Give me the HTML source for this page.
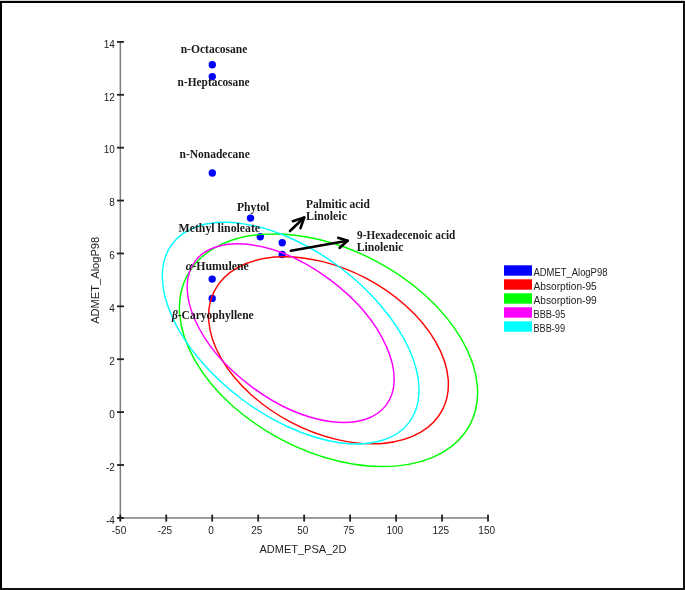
<!DOCTYPE html><html><head><meta charset="utf-8"><style>html,body{margin:0;padding:0;background:#fff}svg{display:block;filter:blur(0.3px)}</style></head><body>
<svg width="685" height="590" viewBox="0 0 685 590">
<rect x="0" y="0" width="685" height="590" fill="#fff"/>
<rect x="0" y="0" width="685" height="1" fill="#d6d6d6"/>
<rect x="0" y="1" width="685" height="2" fill="#000"/>
<rect x="0" y="1" width="2" height="589" fill="#000"/>
<rect x="683" y="1" width="2" height="589" fill="#111"/>
<rect x="0" y="588" width="685" height="2" fill="#111"/>
<g>
<rect x="119.6" y="42" width="1.5" height="479" fill="#7d7d7d"/>
<rect x="120" y="517.2" width="368" height="1.5" fill="#7d7d7d"/>
<rect x="117" y="41.00" width="7" height="1.8" fill="#222"/>
<text x="114.8" y="47.70" text-anchor="end" font-family="Liberation Sans" font-size="10" fill="#222">14</text>
<rect x="117" y="93.89" width="7" height="1.8" fill="#222"/>
<text x="114.8" y="100.59" text-anchor="end" font-family="Liberation Sans" font-size="10" fill="#222">12</text>
<rect x="117" y="146.78" width="7" height="1.8" fill="#222"/>
<text x="114.8" y="153.48" text-anchor="end" font-family="Liberation Sans" font-size="10" fill="#222">10</text>
<rect x="117" y="199.67" width="7" height="1.8" fill="#222"/>
<text x="114.8" y="206.37" text-anchor="end" font-family="Liberation Sans" font-size="10" fill="#222">8</text>
<rect x="117" y="252.56" width="7" height="1.8" fill="#222"/>
<text x="114.8" y="259.26" text-anchor="end" font-family="Liberation Sans" font-size="10" fill="#222">6</text>
<rect x="117" y="305.44" width="7" height="1.8" fill="#222"/>
<text x="114.8" y="312.14" text-anchor="end" font-family="Liberation Sans" font-size="10" fill="#222">4</text>
<rect x="117" y="358.33" width="7" height="1.8" fill="#222"/>
<text x="114.8" y="365.03" text-anchor="end" font-family="Liberation Sans" font-size="10" fill="#222">2</text>
<rect x="117" y="411.22" width="7" height="1.8" fill="#222"/>
<text x="114.8" y="417.92" text-anchor="end" font-family="Liberation Sans" font-size="10" fill="#222">0</text>
<rect x="117" y="464.11" width="7" height="1.8" fill="#222"/>
<text x="114.8" y="470.81" text-anchor="end" font-family="Liberation Sans" font-size="10" fill="#222">-2</text>
<rect x="117" y="517.00" width="7" height="1.8" fill="#222"/>
<text x="114.8" y="523.70" text-anchor="end" font-family="Liberation Sans" font-size="10" fill="#222">-4</text>
<rect x="119.40" y="514.6" width="1.8" height="7" fill="#222"/>
<text x="119.00" y="533.8" text-anchor="middle" font-family="Liberation Sans" font-size="10" fill="#222">-50</text>
<rect x="165.36" y="514.6" width="1.8" height="7" fill="#222"/>
<text x="164.96" y="533.8" text-anchor="middle" font-family="Liberation Sans" font-size="10" fill="#222">-25</text>
<rect x="211.32" y="514.6" width="1.8" height="7" fill="#222"/>
<text x="210.92" y="533.8" text-anchor="middle" font-family="Liberation Sans" font-size="10" fill="#222">0</text>
<rect x="257.29" y="514.6" width="1.8" height="7" fill="#222"/>
<text x="256.89" y="533.8" text-anchor="middle" font-family="Liberation Sans" font-size="10" fill="#222">25</text>
<rect x="303.25" y="514.6" width="1.8" height="7" fill="#222"/>
<text x="302.85" y="533.8" text-anchor="middle" font-family="Liberation Sans" font-size="10" fill="#222">50</text>
<rect x="349.21" y="514.6" width="1.8" height="7" fill="#222"/>
<text x="348.81" y="533.8" text-anchor="middle" font-family="Liberation Sans" font-size="10" fill="#222">75</text>
<rect x="395.18" y="514.6" width="1.8" height="7" fill="#222"/>
<text x="394.77" y="533.8" text-anchor="middle" font-family="Liberation Sans" font-size="10" fill="#222">100</text>
<rect x="441.14" y="514.6" width="1.8" height="7" fill="#222"/>
<text x="440.74" y="533.8" text-anchor="middle" font-family="Liberation Sans" font-size="10" fill="#222">125</text>
<rect x="487.10" y="514.6" width="1.8" height="7" fill="#222"/>
<text x="486.70" y="533.8" text-anchor="middle" font-family="Liberation Sans" font-size="10" fill="#222">150</text>
</g>
<text x="259.4" y="552.7" font-family="Liberation Sans" font-size="11.8" textLength="87" lengthAdjust="spacingAndGlyphs" fill="#222">ADMET_PSA_2D</text>
<text transform="translate(98.9 323.8) rotate(-90)" font-family="Liberation Sans" font-size="11.8" textLength="87" lengthAdjust="spacingAndGlyphs" fill="#222">ADMET_AlogP98</text>
<circle cx="212.3" cy="64.8" r="3.7" fill="#0000ff"/>
<circle cx="212.3" cy="76.6" r="3.7" fill="#0000ff"/>
<circle cx="212.3" cy="173.0" r="3.7" fill="#0000ff"/>
<circle cx="250.5" cy="218.1" r="3.7" fill="#0000ff"/>
<circle cx="260.3" cy="236.7" r="3.7" fill="#0000ff"/>
<circle cx="282.2" cy="242.8" r="3.7" fill="#0000ff"/>
<circle cx="282.2" cy="254.5" r="3.7" fill="#0000ff"/>
<circle cx="212.2" cy="279.1" r="3.7" fill="#0000ff"/>
<circle cx="212.2" cy="298.4" r="3.7" fill="#0000ff"/>
<ellipse cx="328.49" cy="350.25" rx="128.60" ry="81.20" transform="rotate(27.75 328.49 350.25)" fill="none" stroke="#ff0000" stroke-width="1.45"/>
<ellipse cx="328.49" cy="350.25" rx="159.90" ry="101.00" transform="rotate(27.75 328.49 350.25)" fill="none" stroke="#00ff00" stroke-width="1.45"/>
<ellipse cx="290.68" cy="333.14" rx="119.60" ry="66.30" transform="rotate(37.00 290.68 333.14)" fill="none" stroke="#ff00ff" stroke-width="1.45"/>
<ellipse cx="290.68" cy="333.14" rx="148.30" ry="82.20" transform="rotate(37.00 290.68 333.14)" fill="none" stroke="#00ffff" stroke-width="1.45"/>
<text x="180.70" y="52.6" font-family="Liberation Serif" font-weight="bold" font-size="13" textLength="66.70" lengthAdjust="spacingAndGlyphs" fill="#1a1a1a">n-Octacosane</text>
<text x="177.60" y="86.2" font-family="Liberation Serif" font-weight="bold" font-size="13" textLength="72.00" lengthAdjust="spacingAndGlyphs" fill="#1a1a1a">n-Heptacosane</text>
<text x="179.50" y="157.5" font-family="Liberation Serif" font-weight="bold" font-size="13" textLength="70.30" lengthAdjust="spacingAndGlyphs" fill="#1a1a1a">n-Nonadecane</text>
<text x="237.00" y="211.1" font-family="Liberation Serif" font-weight="bold" font-size="13" textLength="32.30" lengthAdjust="spacingAndGlyphs" fill="#1a1a1a">Phytol</text>
<text x="178.60" y="232.0" font-family="Liberation Serif" font-weight="bold" font-size="13" textLength="81.50" lengthAdjust="spacingAndGlyphs" fill="#1a1a1a">Methyl linoleate</text>
<text x="306.10" y="207.7" font-family="Liberation Serif" font-weight="bold" font-size="13" textLength="63.80" lengthAdjust="spacingAndGlyphs" fill="#1a1a1a">Palmitic acid</text>
<text x="306.10" y="220.4" font-family="Liberation Serif" font-weight="bold" font-size="13" textLength="40.80" lengthAdjust="spacingAndGlyphs" fill="#1a1a1a">Linoleic</text>
<text x="357.10" y="238.6" font-family="Liberation Serif" font-weight="bold" font-size="13" textLength="98.20" lengthAdjust="spacingAndGlyphs" fill="#1a1a1a">9-Hexadecenoic acid</text>
<text x="356.70" y="251.0" font-family="Liberation Serif" font-weight="bold" font-size="13" textLength="46.80" lengthAdjust="spacingAndGlyphs" fill="#1a1a1a">Linolenic</text>
<text x="185.70" y="269.6" font-family="Liberation Serif" font-weight="bold" font-size="13" textLength="63.10" lengthAdjust="spacingAndGlyphs" fill="#1a1a1a"><tspan font-style="italic">α</tspan>-Humulene</text>
<text x="171.90" y="318.7" font-family="Liberation Serif" font-weight="bold" font-size="13" textLength="81.80" lengthAdjust="spacingAndGlyphs" fill="#1a1a1a"><tspan font-style="italic">β</tspan>-Caryophyllene</text>
<g stroke="#000" stroke-width="2.6" fill="none" stroke-linecap="round" stroke-linejoin="round">
<path d="M290 231 L304.2 217.5"/>
<path d="M292.9 221.2 L304.2 217.5 L300.5 228.2"/>
<path d="M290.8 250.8 L347.6 240.7"/>
<path d="M338.2 237.8 L347.6 240.7 L339.7 247.8"/>
</g>
<rect x="504" y="265.30" width="28" height="10.4" fill="#0000ff"/>
<text x="533.5" y="275.50" font-family="Liberation Sans" font-size="10" textLength="73.9" lengthAdjust="spacingAndGlyphs" fill="#222">ADMET_AlogP98</text>
<rect x="504" y="279.30" width="28" height="10.4" fill="#ff0000"/>
<text x="533.5" y="289.50" font-family="Liberation Sans" font-size="10" textLength="63.2" lengthAdjust="spacingAndGlyphs" fill="#222">Absorption-95</text>
<rect x="504" y="293.30" width="28" height="10.4" fill="#00ff00"/>
<text x="533.5" y="303.50" font-family="Liberation Sans" font-size="10" textLength="63.2" lengthAdjust="spacingAndGlyphs" fill="#222">Absorption-99</text>
<rect x="504" y="307.30" width="28" height="10.4" fill="#ff00ff"/>
<text x="533.5" y="317.50" font-family="Liberation Sans" font-size="10" textLength="31.8" lengthAdjust="spacingAndGlyphs" fill="#222">BBB-95</text>
<rect x="504" y="321.30" width="28" height="10.4" fill="#00ffff"/>
<text x="533.5" y="331.50" font-family="Liberation Sans" font-size="10" textLength="31.5" lengthAdjust="spacingAndGlyphs" fill="#222">BBB-99</text>
</svg></body></html>
